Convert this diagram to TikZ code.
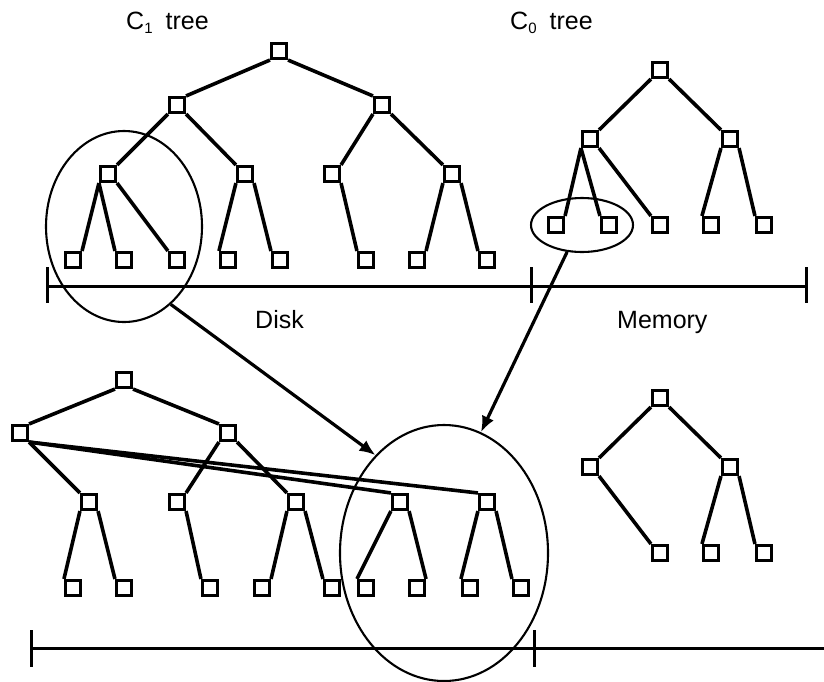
\documentclass[tikz,border=0pt]{standalone}
\usepackage{fontspec}
\setmainfont{Liberation Sans}
\usetikzlibrary{arrows.meta,shapes.geometric}
\begin{document}
\begin{tikzpicture}[x=1pt,y=-1pt,
  bx/.style={draw,line width=2.6pt,minimum size=15.5pt,inner sep=0pt,fill=white},
  edge/.style={line width=3.6pt},
  axis/.style={line width=3pt},
  ring/.style={draw,ellipse,line width=2.1pt,inner sep=0pt},
  arr/.style={line width=3.2pt,-{Latex[length=16pt,width=13pt]}},
  lbl/.style={font=\fontsize{25}{29}\selectfont,inner sep=0pt,anchor=base west}]
\useasboundingbox (0,0) rectangle (824,681);
% labels
\node[lbl] (t1) at (126,29.5) {C\raisebox{-4pt}{\fontsize{15}{15}\selectfont 1}\hspace{13pt}tree};
\node[lbl] (t0) at (510,29.5) {C\raisebox{-4pt}{\fontsize{15}{15}\selectfont 0}\hspace{13pt}tree};
\node[lbl] (disk) at (255,328) {Disk};
\node[lbl] (mem) at (617,328) {Memory};
% top C1 tree
\node[bx] (r) at (279,51) {};
\node[bx] (l) at (177,105) {};
\node[bx] (rr) at (382,105) {};
\node[bx] (ll) at (108,174) {};
\node[bx] (lr) at (245,174) {};
\node[bx] (rl) at (332,174) {};
\node[bx] (rrr) at (452,174) {};
\foreach \n/\x in {1/73,2/124,3/177,4/228,5/280,6/366,7/417,8/487}
  \node[bx] (t\n) at (\x,260) {};
\draw[edge] (r.south west) -- (l.north east);
\draw[edge] (r.south east) -- (rr.north west);
\draw[edge] (l.south west) -- (ll.north east);
\draw[edge] (l.south east) -- (lr.north west);
\draw[edge] (rr.south west) -- (rl.north east);
\draw[edge] (rr.south east) -- (rrr.north west);
\draw[edge] (ll.south west) -- (t1.north east);
\draw[edge] (ll.south west) -- (t2.north west);
\draw[edge] (ll.south east) -- (t3.north west);
\draw[edge] (lr.south west) -- (t4.north west);
\draw[edge] (lr.south east) -- (t5.north west);
\draw[edge] (rl.south east) -- (t6.north west);
\draw[edge] (rrr.south west) -- (t7.north east);
\draw[edge] (rrr.south east) -- (t8.north west);
% top C0 tree
\node[bx] (cr) at (660,70) {};
\node[bx] (cl) at (590,139) {};
\node[bx] (crr) at (730,139) {};
\foreach \n/\x in {1/556,2/609,3/660,4/711,5/764}
  \node[bx] (u\n) at (\x,225) {};
\draw[edge] (cr.south west) -- (cl.north east);
\draw[edge] (cr.south east) -- (crr.north west);
\draw[edge] (cl.south west) -- (u1.north east);
\draw[edge] (cl.south west) -- (u2.north west);
\draw[edge] (cl.south east) -- (u3.north west);
\draw[edge] (crr.south west) -- (u4.north west);
\draw[edge] (crr.south east) -- (u5.north west);
% top axis
\draw[axis] (47,286) -- (806,286);
\foreach \x in {47,531,806} \draw[axis] (\x,267) -- (\x,303);
% ellipses
\node[ring,minimum width=156pt,minimum height=191pt] (ebig) at (124,226.5) {};
\node[ring,minimum width=102pt,minimum height=54pt] (esm) at (582,225) {};
\node[ring,minimum width=208pt,minimum height=256pt] (elow) at (444,553) {};
% lower left tree
\node[bx] (br) at (124,380) {};
\node[bx] (bl) at (20,433) {};
\node[bx] (brr) at (228,433) {};
\node[bx] (ba) at (89,502) {};
\node[bx] (bb) at (177,502) {};
\node[bx] (bc) at (296,502) {};
\node[bx] (bd) at (400,502) {};
\node[bx] (be) at (487,502) {};
\foreach \n/\x in {1/73,2/124,3/210,4/262,5/332,6/366,7/417,8/470,9/521}
  \node[bx] (v\n) at (\x,588) {};
\draw[edge] (br.south west) -- (bl.north east);
\draw[edge] (br.south east) -- (brr.north west);
\draw[edge] (bl.south east) -- (ba.north west);
\draw[edge] (bl.south east) -- (bd.north west);
\draw[edge] (bl.south east) -- (be.north west);
\draw[edge] (brr.south west) -- (bb.north east);
\draw[edge] (brr.south east) -- (bc.north west);
\draw[edge] (ba.south west) -- (v1.north west);
\draw[edge] (ba.south east) -- (v2.north west);
\draw[edge] (bb.south east) -- (v3.north west);
\draw[edge] (bc.south west) -- (v4.north east);
\draw[edge] (bc.south east) -- (v5.north west);
\draw[edge] (bd.south west) -- (v6.north west);
\draw[edge] (bd.south east) -- (v7.north east);
\draw[edge] (be.south west) -- (v8.north west);
\draw[edge] (be.south east) -- (v9.north west);
% lower right tree
\node[bx] (dr) at (660,398) {};
\node[bx] (dl) at (590,467) {};
\node[bx] (drr) at (730,467) {};
\foreach \n/\x in {1/660,2/711,3/764}
  \node[bx] (w\n) at (\x,553) {};
\draw[edge] (dr.south west) -- (dl.north east);
\draw[edge] (dr.south east) -- (drr.north west);
\draw[edge] (dl.south east) -- (w1.north west);
\draw[edge] (drr.south west) -- (w2.north west);
\draw[edge] (drr.south east) -- (w3.north west);
% lower axis
\draw[axis] (31,648) -- (824,648);
\foreach \x in {31,534} \draw[axis] (\x,630) -- (\x,667);
% arrows
\draw[arr] (ebig.-59) -- (elow.125);
\draw[arr] (esm.-119) -- (elow.73);
\end{tikzpicture}
\end{document}
